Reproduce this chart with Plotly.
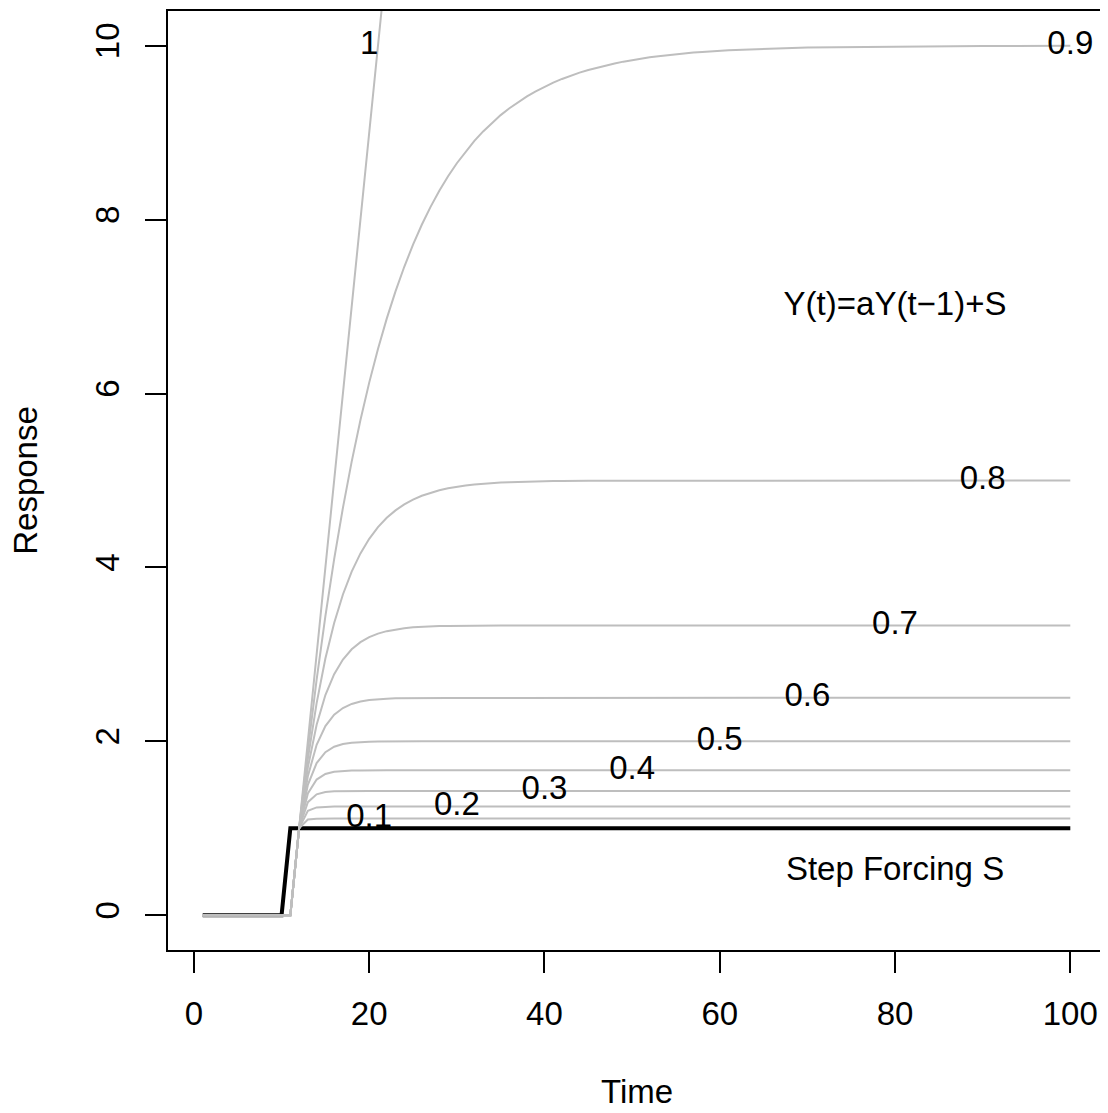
import plotly.graph_objects as go

# ---------------- data ----------------
# step forcing S
step_time = [1, 10, 11, 100]
step_S = [0, 0, 1, 1]

# responses Y(t) for each coefficient a (zero until t=11)
pre_time = [1, 11]
pre_Y = [0, 0]

t_a01 = [12, 13, 14, 15, 16, 100]
Y_a01 = [1, 1.1, 1.11, 1.111, 1.1111, 1.1111]

t_a02 = [12, 13, 14, 15, 16, 17, 18, 100]
Y_a02 = [1, 1.2, 1.24, 1.248, 1.2496, 1.24992, 1.24998, 1.25]

t_a03 = [12, 13, 14, 15, 16, 17, 18, 19, 20, 21, 100]
Y_a03 = [1, 1.3, 1.39, 1.417, 1.4251, 1.42753, 1.42826, 1.42848, 1.42854, 1.42856, 1.42857]

t_a04 = [12, 13, 14, 15, 16, 17, 18, 19, 20, 21, 22, 100]
Y_a04 = [1, 1.4, 1.56, 1.624, 1.6496, 1.65984, 1.66394, 1.66557, 1.66623, 1.66649, 1.6666, 1.66667]

t_a05 = list(range(12, 27)) + [100]
Y_a05 = [1, 1.5, 1.75, 1.875, 1.9375, 1.96875, 1.98438, 1.99219, 1.99609, 1.99805,
         1.99902, 1.99951, 1.99976, 1.99988, 1.99994, 2.0]

t_a06 = list(range(12, 30)) + [100]
Y_a06 = [1, 1.6, 1.96, 2.176, 2.3056, 2.38336, 2.43002, 2.45801, 2.47481, 2.48488,
         2.49093, 2.49456, 2.49673, 2.49804, 2.49882, 2.49929, 2.49958, 2.49975, 2.5]

t_a07 = list(range(12, 36)) + [100]
Y_a07 = [1, 1.7, 2.19, 2.533, 2.7731, 2.94117, 3.05882, 3.14117, 3.19882, 3.23918,
         3.26742, 3.2872, 3.30104, 3.31073, 3.31751, 3.32226, 3.32558, 3.32791, 3.32953,
         3.33067, 3.33147, 3.33203, 3.33242, 3.3327, 3.33333]

t_a08 = list(range(12, 46)) + [100]
Y_a08 = [1, 1.8, 2.44, 2.952, 3.3616, 3.68928, 3.95142, 4.16114, 4.32891, 4.46313,
         4.5705, 4.6564, 4.72512, 4.7801, 4.82408, 4.85927, 4.88741, 4.90993, 4.92794,
         4.94236, 4.95389, 4.96311, 4.97049, 4.97639, 4.98111, 4.98489, 4.98791, 4.99033,
         4.99226, 4.99381, 4.99505, 4.99604, 4.99683, 4.99747, 5.0]

t_a09 = list(range(12, 62)) + [70, 80, 90, 100]
Y_a09 = [1, 1.9, 2.71, 3.439, 4.0951, 4.68559, 5.21703, 5.69533, 6.1258, 6.51322,
         6.86189, 7.1757, 7.45813, 7.71232, 7.94109, 8.14698, 8.33228, 8.49905, 8.64915,
         8.78423, 8.90581, 9.01523, 9.11371, 9.20234, 9.2821, 9.35389, 9.4185, 9.47665,
         9.52899, 9.57609, 9.61848, 9.65663, 9.69097, 9.72187, 9.74968, 9.77472, 9.79724,
         9.81752, 9.83577, 9.85219, 9.86697, 9.88028, 9.89225, 9.90302, 9.91272, 9.92145,
         9.9293, 9.93637, 9.94274, 9.94846, 9.98003, 9.99304, 9.99757, 9.99916]

t_a10 = list(range(12, 23)) + [100]
Y_a10 = [1, 2, 3, 4, 5, 6, 7, 8, 9, 10, 11, 89]

series_time = [t_a01, t_a02, t_a03, t_a04, t_a05, t_a06, t_a07, t_a08, t_a09, t_a10]
series_Y = [Y_a01, Y_a02, Y_a03, Y_a04, Y_a05, Y_a06, Y_a07, Y_a08, Y_a09, Y_a10]

# curve labels
label_text = ["0.1", "0.2", "0.3", "0.4", "0.5", "0.6", "0.7", "0.8", "0.9", "1"]
label_x = [20, 30, 40, 50, 60, 70, 80, 90, 100, 20]
label_y = [1.111, 1.25, 1.429, 1.667, 2.0, 2.5, 3.333, 5.0, 10.0, 10.0]

note_text = ["Y(t)=aY(t\u22121)+S", "Step Forcing S"]
note_x = [80, 80]
note_y = [7, 0.5]

x_ticks = [0, 20, 40, 60, 80, 100]
y_ticks = [0, 2, 4, 6, 8, 10]

# ---------------- figure ----------------
FONT = "Liberation Sans, Arial, Helvetica, sans-serif"
FS = 33
GREY = "#BEBEBE"

fig = go.Figure()

fig.add_trace(go.Scatter(x=step_time, y=step_S, mode="lines",
                         line=dict(color="black", width=4), hoverinfo="skip",
                         showlegend=False))

for tt, yy in zip(series_time, series_Y):
    fig.add_trace(go.Scatter(x=pre_time + tt, y=pre_Y + yy, mode="lines",
                             line=dict(color=GREY, width=2), hoverinfo="skip",
                             showlegend=False))

fig.add_trace(go.Scatter(x=label_x, y=label_y, text=label_text, mode="text",
                         textposition="middle center",
                         textfont=dict(family=FONT, size=FS, color="black"),
                         cliponaxis=False, showlegend=False, hoverinfo="skip"))

fig.add_trace(go.Scatter(x=note_x, y=note_y, text=note_text, mode="text",
                         textposition="middle center",
                         textfont=dict(family=FONT, size=FS, color="black"),
                         cliponaxis=False, showlegend=False, hoverinfo="skip"))

fig.update_xaxes(range=[-2.96, 103.96], tickvals=x_ticks, ticktext=[str(v) for v in x_ticks],
                 ticks="outside", ticklen=21, tickwidth=2, tickcolor="black",
                 showline=True, mirror=True, linewidth=2, linecolor="black",
                 showgrid=False, zeroline=False, ticklabelstandoff=12,
                 tickfont=dict(family=FONT, size=FS, color="black"))
fig.update_yaxes(range=[-0.4, 10.4], tickvals=y_ticks, ticktext=[str(v) for v in y_ticks],
                 ticks="outside", ticklen=21, tickwidth=2, tickcolor="black",
                 showline=True, mirror=True, linewidth=2, linecolor="black",
                 showgrid=False, zeroline=False, tickangle=-90, ticklabelstandoff=13,
                 tickfont=dict(family=FONT, size=FS, color="black"))

fig.add_annotation(text="Time", xref="paper", yref="paper", x=0.5, y=-0.129,
                   xanchor="center", yanchor="top", showarrow=False,
                   font=dict(family=FONT, size=FS, color="black"))
fig.add_annotation(text="Response", xref="paper", yref="paper", x=-0.1523, y=0.5,
                   xanchor="center", yanchor="middle", textangle=-90, showarrow=False,
                   font=dict(family=FONT, size=FS, color="black"))

# page body has an 8 px margin, so the figure is offset by 8 px
fig.update_layout(width=1100, height=1105,
                  margin=dict(l=160, r=1, t=3, b=163),
                  plot_bgcolor="white", paper_bgcolor="white")

fig.write_html("out.html")
